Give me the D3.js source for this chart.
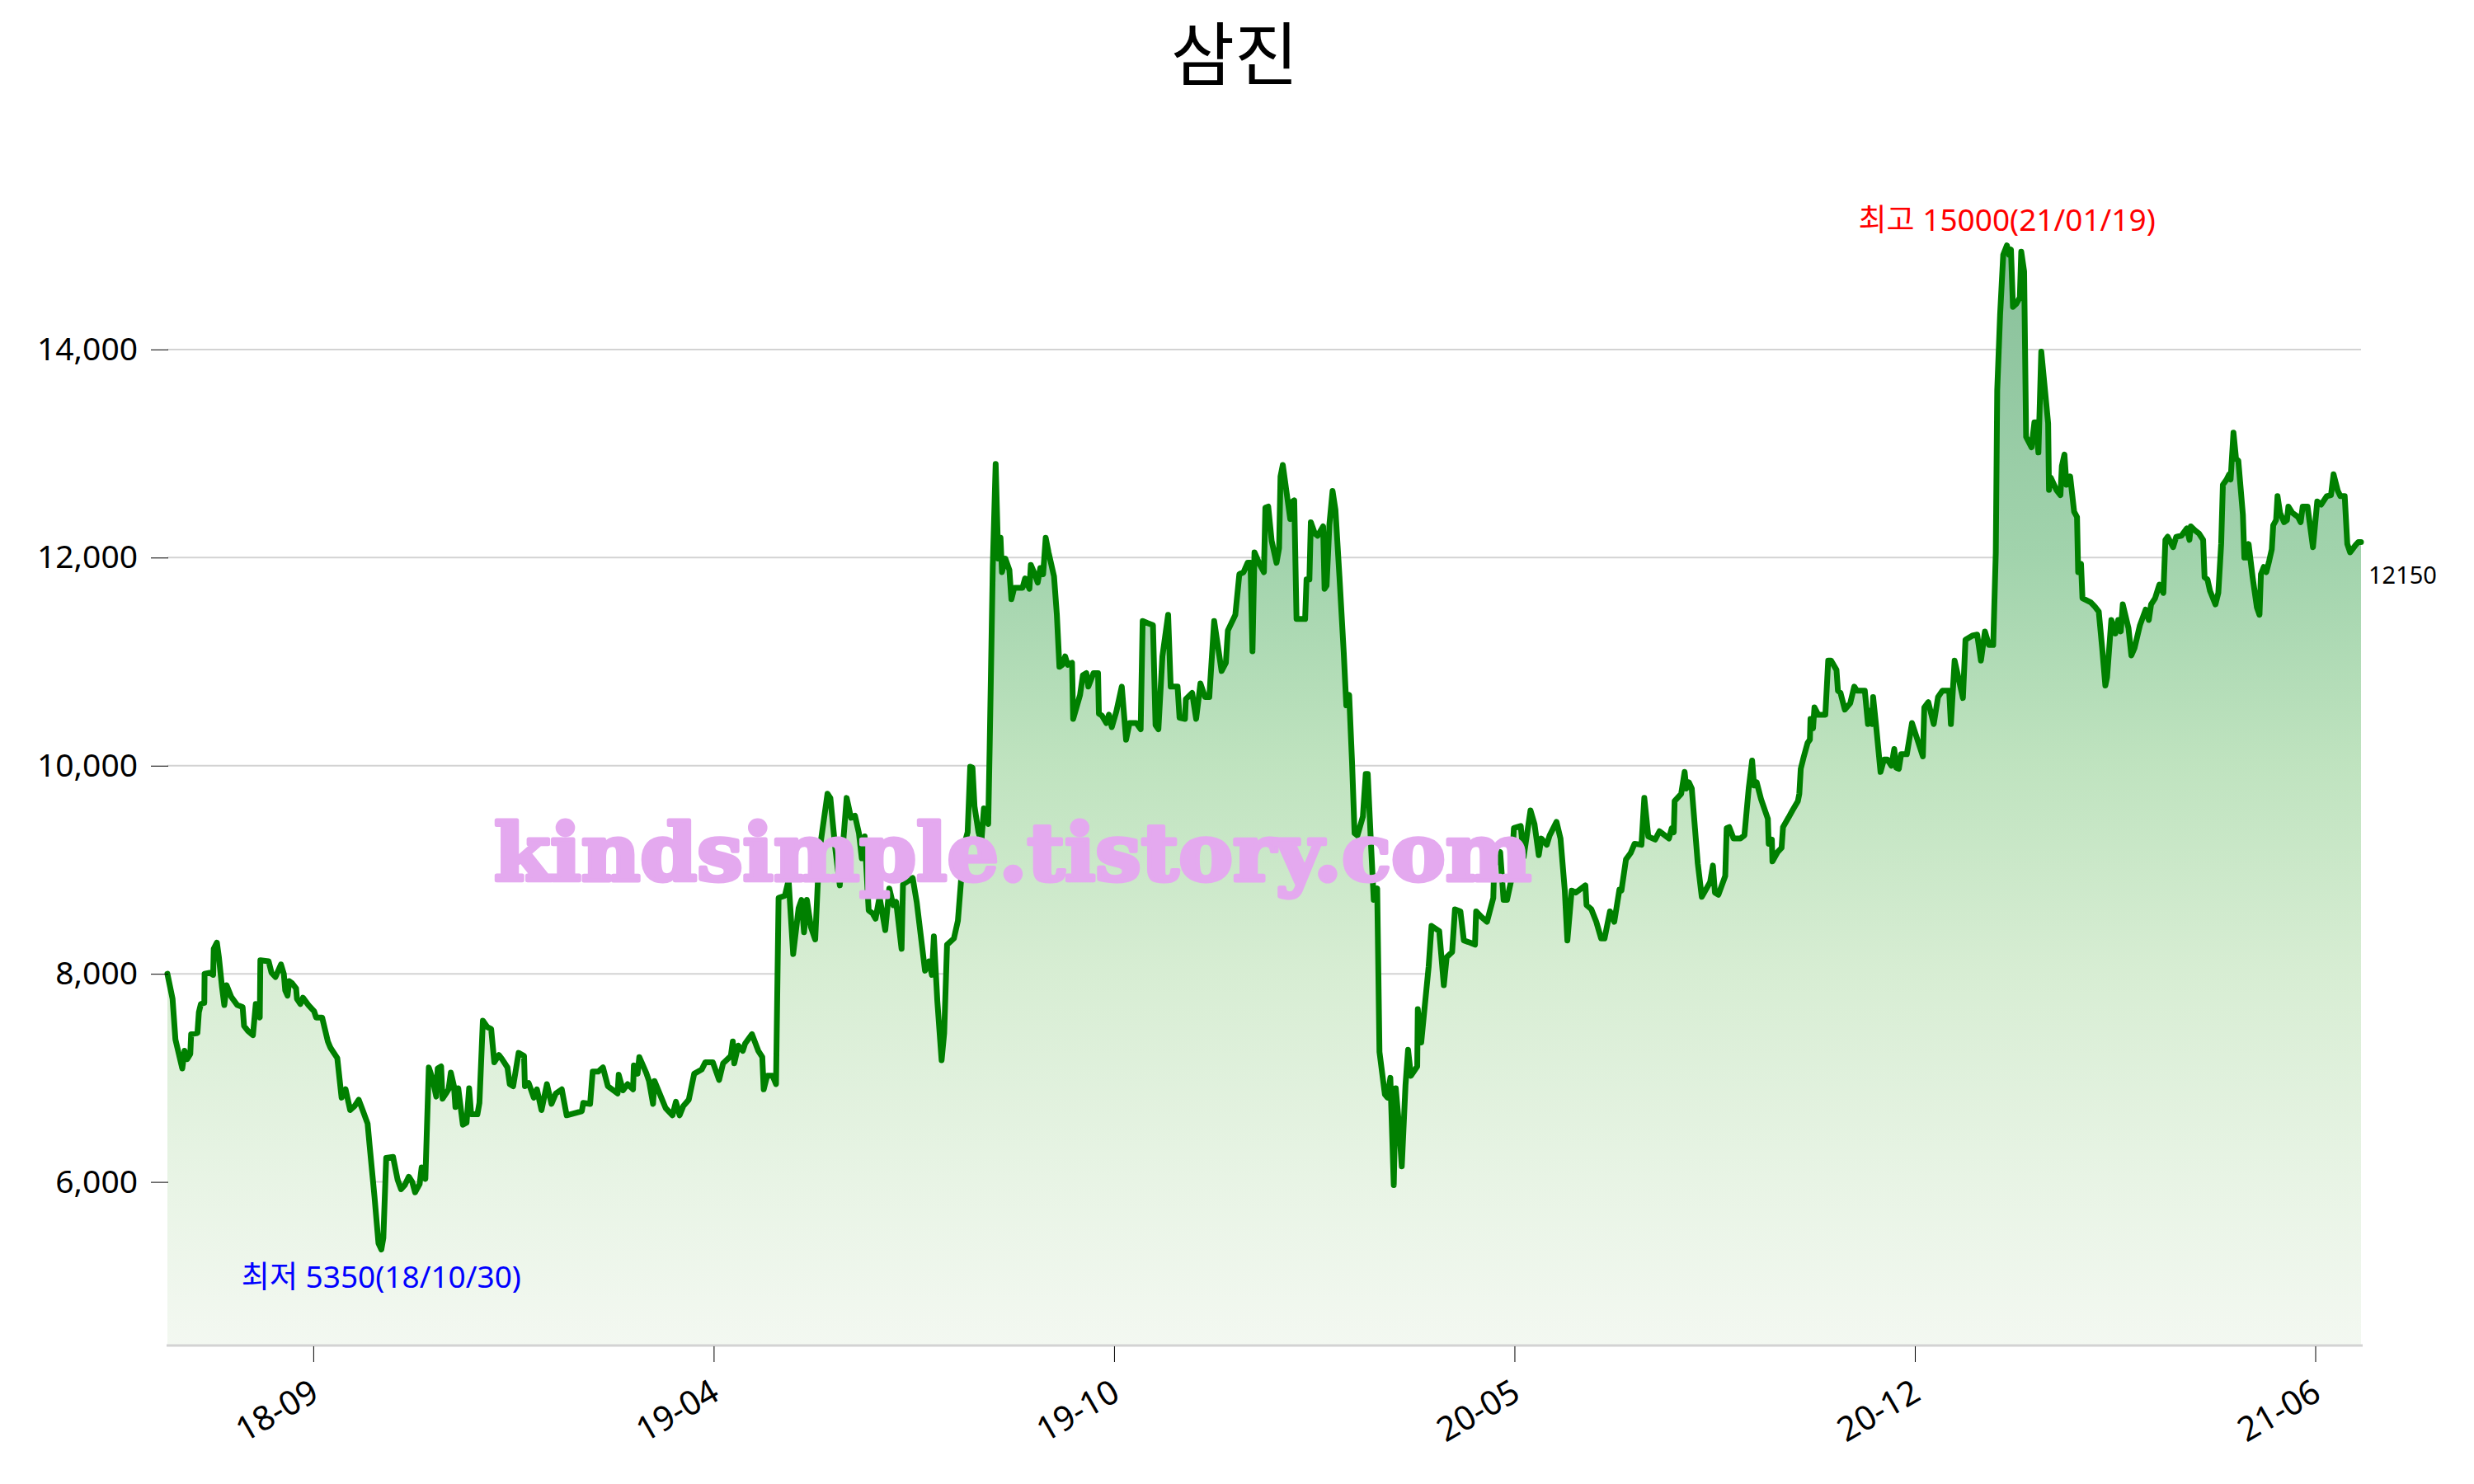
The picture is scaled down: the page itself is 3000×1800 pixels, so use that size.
<!DOCTYPE html>
<html>
<head>
<meta charset="utf-8">
<script src="https://cdn.jsdelivr.net/npm/d3@7"></script>
<style>
  html, body { margin: 0; padding: 0; background: #ffffff; }
  svg { display: block; }
</style>
</head>
<body>
<script>
// ---------------- data ----------------
const chartTitle = "삼진";
const totalDays = 768;                       // trading days shown (index 0..767)
// [trading-day index, close price]
const pricePoints = [
[0,8000],[1.8,7760],[2.8,7370],[5.2,7090],[6,7260],[6.9,7180],[8,7230],[8.3,7420],[10.5,7430],[11,7630],
[11.7,7710],[12.9,7720],[13,8000],[14.8,8010],[16,7990],[16.2,8240],[17.3,8300],[18,8160],[19.1,7870],[19.9,7700],
[20.7,7890],[22.3,7780],[24.4,7700],[26.3,7680],[26.8,7500],[28.2,7450],[29.9,7410],[30.9,7710],[32.3,7580],[32.5,8130],
[35.4,8120],[36.4,8010],[37.8,7970],[39.7,8090],[40.7,8000],[41.2,7840],[42,7790],[42.6,7930],[43.6,7910],[45,7860],
[45.3,7760],[46.5,7710],[47.4,7770],[49.3,7700],[51.3,7640],[52,7580],[54.1,7580],[56.1,7350],[57,7290],[59.4,7190],
[60.9,6810],[62.3,6890],[63.9,6690],[65.5,6730],[66.9,6790],[68.4,6680],[70,6560],[70.7,6350],[72.4,5860],[73.8,5410],
[74.8,5350],[75.5,5460],[76.5,6230],[78.9,6240],[80.5,6020],[81.7,5930],[83,5970],[84.4,6050],[85.6,6000],[86.6,5900],
[88.2,5980],[88.9,6140],[90.2,6030],[91.4,7100],[92.6,7000],[94,6820],[94.5,7090],[95.7,7110],[96.2,6800],[97.4,6850],
[98.3,6890],[99.1,7050],[100.2,6920],[100.7,6720],[101.7,6900],[103.3,6550],[104.6,6570],[105.5,6900],[106.2,6650],[108.4,6650],
[109.1,6760],[110.3,7550],[111.8,7490],[113.2,7470],[114.3,7150],[115.9,7220],[117,7180],[118.9,7100],[119.7,6940],[120.9,6920],
[122.8,7240],[124.7,7210],[125,6920],[126.3,6950],[127.1,6890],[128.1,6810],[129.2,6890],[130.8,6690],[132.7,6940],[134.3,6750],
[135.8,6850],[137.9,6890],[139.6,6640],[144.9,6680],[145.4,6760],[147.8,6750],[148.7,7060],[150.6,7060],[152.3,7100],[154,6920],
[157.4,6850],[157.8,7030],[159.3,6880],[160.9,6940],[162.8,6890],[163.1,7120],[164.4,7040],[165,7200],[167.4,7050],[168.4,6970],
[169.8,6750],[170.3,6970],[172.7,6810],[174.2,6710],[176.6,6640],[177.8,6770],[179.1,6640],[180.4,6730],[182.3,6790],[184.2,7040],
[186.8,7080],[188.1,7150],[190.7,7150],[192.9,6980],[194.3,7140],[197,7210],[197.7,7350],[198.2,7140],[199.6,7310],[201.2,7260],
[202,7330],[204.4,7420],[206.6,7260],[208,7200],[208.5,6890],[209.7,7020],[211.6,7020],[212.8,6940],[213.7,8730],[215.9,8750],
[217.2,8900],[218.8,8190],[220.7,8630],[221.7,8710],[222.6,8400],[223.6,8710],[225,8450],[226.5,8330],[227.9,9160],[230.8,9730],
[231.8,9690],[233.5,9210],[235.1,8850],[237.5,9690],[239,9500],[240.4,9520],[241.8,9350],[242.8,9110],[243.8,9320],[245.2,8610],
[246.6,8580],[247.6,8530],[249,8740],[251,8420],[252.4,8820],[253.8,8660],[254.8,8690],[256.7,8240],[257.2,8860],[260.6,8920],
[262,8690],[264.9,8030],[266.3,8120],[267.3,7990],[268,8360],[269.2,7740],[270.7,7170],[271.6,7430],[272.6,8280],[275,8340],
[276.4,8510],[277.4,8860],[278.3,9210],[279.8,9360],[280.7,9990],[281.5,9980],[282.2,9610],[283.6,9360],[284.6,9270],[285.5,9590],
[287,9440],[287.5,10170],[288.6,11920],[289.6,12900],[290.5,11990],[291.3,12190],[291.8,11860],[293,11990],[294.4,11880],[295.1,11600],
[296.1,11710],[299,11710],[299.9,11800],[301.4,11700],[301.9,11930],[303.3,11840],[304.3,11760],[305.2,11900],[306.2,11840],[307.1,12190],
[308.1,12050],[310,11820],[311,11450],[311.9,10950],[312.9,10970],[313.9,11050],[314.8,10970],[316.3,10990],[316.7,10450],[319.1,10680],
[320.1,10870],[321.3,10890],[322,10760],[323.8,10890],[325.4,10890],[325.7,10500],[326.8,10480],[328.3,10410],[329.2,10490],[330.2,10370],
[331.8,10520],[333.7,10760],[335.2,10250],[336.4,10410],[338.8,10410],[340.3,10350],[341,11390],[342.7,11370],[344.6,11350],[345.5,10390],
[346.5,10350],[347.9,11050],[349.9,11450],[350.8,10760],[353.2,10760],[353.9,10460],[355.8,10450],[356.1,10640],[358.3,10700],[359.7,10450],
[361.2,10790],[362.8,10660],[364.3,10660],[366,11390],[368.6,10910],[370.1,10990],[370.8,11300],[373.4,11450],[374.8,11840],[376.3,11860],
[377.7,11950],[378.7,11950],[379.4,11100],[380.1,12050],[382,11930],[383.4,11860],[383.9,12480],[384.9,12490],[386.1,12160],[387.8,11950],
[388.7,12090],[389.2,12780],[390,12890],[392.6,12370],[393,12530],[394,12550],[394.8,11410],[397.8,11410],[398.3,11790],[399.3,11790],
[399.8,12340],[401.2,12230],[402.2,12210],[404.1,12300],[404.6,11700],[405.3,11730],[406.3,12320],[407.4,12640],[408.4,12460],[409.8,11820],
[411.3,11090],[412.2,10580],[413.2,10680],[414.2,10040],[415.1,9350],[416.1,9330],[418,9510],[419,9920],[419.7,9920],[420.9,9210],
[421.8,8710],[423,8820],[423.8,7250],[425.7,6840],[426.6,6810],[427.6,7000],[428.8,5970],[429.5,6900],[430.7,6520],[431.6,6150],
[432.9,6930],[433.8,7270],[434.8,7020],[437,7110],[437.2,7660],[438.4,7340],[439.6,7680],[441,8070],[442,8460],[444.7,8410],
[446.3,7890],[447.3,8160],[449.2,8210],[450.2,8620],[452.1,8600],[453.3,8320],[455.4,8300],[457.2,8280],[457.6,8600],[459.3,8550],
[461.4,8500],[463.6,8730],[463.9,9030],[466,9170],[467.2,8710],[468.4,8710],[469.8,8890],[470.8,9400],[473.2,9420],[474.2,9120],
[476.6,9570],[478,9440],[479.5,9140],[480.4,9300],[482.3,9240],[483.3,9330],[485.7,9460],[487.1,9300],[488.6,8800],[489.5,8320],
[491,8800],[492.4,8780],[495.8,8850],[496.2,8660],[497.9,8620],[499.6,8500],[501.3,8340],[502.5,8340],[504.4,8600],[505.9,8500],
[507.7,8810],[508.4,8800],[510,9100],[511.6,9160],[513,9250],[515.4,9240],[516.4,9690],[517.8,9320],[520.2,9290],[521.7,9370],
[525,9300],[526,9400],[526.7,9360],[527,9660],[529.3,9730],[530.5,9940],[531.1,9780],[532,9840],[533,9780],[535.1,9060],
[536.5,8740],[539.4,8880],[540.4,9040],[541.1,8780],[542.3,8760],[544.7,8940],[545.2,9400],[546.1,9410],[547.6,9300],[550,9300],
[551.4,9330],[552.9,9780],[554.1,10050],[554.8,9810],[555.7,9840],[557.2,9680],[559.6,9490],[559.9,9250],[561,9290],[561.2,9080],
[563,9170],[564.4,9210],[564.9,9410],[566.8,9500],[568.2,9570],[570.1,9660],[570.6,9730],[571.1,9970],[572.1,10080],[573.5,10220],
[574.3,10250],[574.5,10450],[575.4,10360],[575.9,10560],[577.2,10490],[579.7,10490],[580.7,11010],[581.7,11010],[583.6,10920],[584.1,10720],
[585,10700],[586.5,10540],[588.4,10600],[589.8,10760],[590.8,10720],[593.5,10720],[594.6,10400],[595.4,10530],[596.1,10400],[596.4,10660],
[597.5,10370],[599,9940],[600.2,10060],[601.4,10060],[602.8,10000],[603.8,10160],[604.5,9980],[605.4,9970],[606.2,10110],[608.2,10110],
[610,10410],[613.8,10090],[614.3,10560],[615.7,10610],[617.6,10400],[619.1,10660],[620.6,10720],[623,10720],[623.6,10400],[624.9,11010],
[627.8,10650],[628.7,11210],[631.1,11250],[632.8,11260],[634.1,11010],[635.5,11290],[636.9,11160],[638.4,11160],[639.3,12050],[639.8,13610],
[640.8,14330],[641.9,14910],[643.2,15000],[643.9,14910],[644.6,14960],[645.3,14410],[646.5,14440],[647.7,14500],[648.2,14940],[649.2,14750],
[649.9,13160],[651.8,13060],[652.8,13300],[653.3,13300],[654.2,13010],[655.2,13980],[657.6,13290],[657.9,12650],[658.5,12770],[660.5,12650],
[661.9,12600],[662.4,12880],[663.3,12990],[664,12700],[665.3,12780],[666.7,12440],[667.7,12390],[668.1,11860],[669.1,11940],[669.6,11610],
[672.5,11570],[673.9,11530],[675.3,11480],[676.5,11130],[677.6,10770],[678.2,10850],[679.7,11400],[681.1,11270],[682.1,11400],[683,11290],
[683.7,11550],[685.7,11320],[686.7,11060],[687.8,11130],[689.7,11350],[691.7,11500],[692.8,11400],[693.6,11550],[695,11610],[696.5,11740],
[697.9,11660],[698.6,12170],[699.4,12200],[701.3,12100],[702.4,12200],[704.2,12210],[706.1,12280],[707,12170],[707.5,12300],[709,12260],
[710.4,12230],[711.8,12170],[712.3,11810],[713.3,11790],[714.2,11680],[716.1,11550],[717.1,11660],[718.1,12130],[718.7,12700],[720,12750],
[720.9,12800],[721.4,12750],[722.4,13200],[723.3,12950],[724.1,12930],[725.7,12410],[726.2,12000],[727,12000],[727.7,12130],[729.1,11810],
[730.6,11520],[731.5,11450],[732,11840],[733,11910],[733.9,11860],[734.9,11970],[735.8,12080],[736.3,12310],[737.3,12360],[737.8,12590],
[738.7,12430],[740.1,12340],[741.1,12360],[741.6,12490],[743,12430],[745,12390],[745.9,12340],[746.6,12490],[748.3,12490],[750.2,12100],
[751.7,12540],[753.1,12510],[755,12590],[756.5,12600],[757.4,12800],[758.9,12640],[759.8,12590],[761.3,12590],[762.2,12130],[763.2,12050],
[765.1,12120],[766.1,12150],[767,12150]
];
const xTickIndex  = [51, 191, 331, 471, 611, 751];
const xTickLabels = ["18-09", "19-04", "19-10", "20-05", "20-12", "21-06"];
const yTickValues = [6000, 8000, 10000, 12000, 14000];
const maxLabelPrefix = "최고", maxDate = "21/01/19";
const minLabelPrefix = "최저", minDate = "18/10/30";
const watermarkText = "kindsimple.tistory.com";

// ---------------- layout ----------------
const W = 3000, H = 1800;
const plotLeft = 203, plotRight = 2863, plotBottom = 1631, plotTop = 203;
const yMin = 4436, yMax = 15750;
const FONT = "'Noto Sans', 'Noto Sans CJK KR', sans-serif";

const svg = d3.select("body").append("svg").attr("width", W).attr("height", H);

const x = d3.scaleLinear().domain([0, totalDays - 1]).range([plotLeft, plotRight]);
const y = d3.scaleLinear().domain([yMin, yMax]).range([plotBottom, plotTop]);

// gradient
const defs = svg.append("defs");
const grad = defs.append("linearGradient").attr("id", "areaGrad")
  .attr("gradientUnits", "userSpaceOnUse")
  .attr("x1", 0).attr("x2", 0).attr("y1", y(15000)).attr("y2", y(yMin));
[[0, "#88c09a"], [0.28, "#a1d3ac"], [0.47, "#bfe3bf"], [0.66, "#d7edd3"], [0.85, "#e8f4e5"], [1, "#f3f8f1"]]
  .forEach(([o, c]) => grad.append("stop").attr("offset", o).attr("stop-color", c));

// grid lines
svg.append("g").selectAll("line").data(yTickValues).join("line")
  .attr("x1", plotLeft).attr("x2", plotRight)
  .attr("y1", d => y(d)).attr("y2", d => y(d))
  .attr("stroke", "#d3d3d3").attr("stroke-width", 2);

// area + line
const area = d3.area().x(d => x(d[0])).y0(plotBottom).y1(d => y(d[1]));
const line = d3.line().x(d => x(d[0])).y(d => y(d[1]));
svg.append("path").datum(pricePoints).attr("d", area).attr("fill", "url(#areaGrad)");
svg.append("path").datum(pricePoints).attr("d", line)
  .attr("fill", "none").attr("stroke", "#008000").attr("stroke-width", 7)
  .attr("stroke-linejoin", "round").attr("stroke-linecap", "round");

// y axis
const yAxis = svg.append("g").attr("transform", `translate(${plotLeft + 1},0)`)
  .call(d3.axisLeft(y).tickValues(yTickValues).tickSize(21).tickPadding(16).tickFormat(d3.format(",")));
yAxis.select(".domain").remove();
yAxis.selectAll(".tick line").attr("stroke", "#000").attr("stroke-width", 1);
yAxis.selectAll("text").attr("font-family", FONT).attr("font-size", 39).attr("fill", "#000");

// x axis base line
svg.append("line").attr("x1", plotLeft - 1).attr("x2", plotRight + 2)
  .attr("y1", plotBottom + 1).attr("y2", plotBottom + 1)
  .attr("stroke", "#d3d3d3").attr("stroke-width", 3);

const xAxis = svg.append("g").attr("transform", `translate(0,${plotBottom + 2})`)
  .call(d3.axisBottom(x).tickValues(xTickIndex).tickSize(19)
    .tickFormat((d, i) => xTickLabels[i]));
xAxis.select(".domain").remove();
xAxis.selectAll(".tick line").attr("stroke", "#000").attr("stroke-width", 1);
xAxis.selectAll("text")
  .attr("font-family", FONT).attr("font-size", 41).attr("fill", "#000")
  .attr("text-anchor", "end")
  .attr("x", 0).attr("y", 0).attr("dy", "0.72em")
  .attr("transform", "translate(-6,38) rotate(-30)");

// title
svg.append("text").attr("x", 1497).attr("y", 97).attr("text-anchor", "middle")
  .attr("font-family", "'Noto Sans CJK KR', sans-serif").attr("font-size", 84).attr("fill", "#000")
  .text(chartTitle);

// extreme annotations
const maxPt = pricePoints.reduce((a, b) => (b[1] > a[1] ? b : a));
const minPt = pricePoints.reduce((a, b) => (b[1] < a[1] ? b : a));
svg.append("text").attr("x", x(maxPt[0])).attr("y", y(maxPt[1]) - 18)
  .attr("text-anchor", "middle").attr("font-family", FONT).attr("font-size", 37).attr("fill", "#ff0000")
  .text(`${maxLabelPrefix} ${maxPt[1]}(${maxDate})`);
svg.append("text").attr("x", x(minPt[0])).attr("y", y(minPt[1]) + 46)
  .attr("text-anchor", "middle").attr("font-family", FONT).attr("font-size", 37).attr("fill", "#0000ff")
  .text(`${minLabelPrefix} ${minPt[1]}(${minDate})`);

// last value label
const lastPt = pricePoints[pricePoints.length - 1];
svg.append("text").attr("x", plotRight + 9).attr("y", y(lastPt[1]) + 51)
  .attr("font-family", FONT).attr("font-size", 29).attr("fill", "#000")
  .text(lastPt[1]);

// watermark
svg.append("text").attr("x", 599).attr("y", 1068)
  .attr("font-family", "'DejaVu Serif', serif").attr("font-weight", "bold").attr("font-size", 96)
  .attr("fill", "#e4a9ef").attr("stroke", "#e4a9ef").attr("stroke-width", 5)
  .attr("stroke-linejoin", "round")
  .attr("textLength", 1258).attr("lengthAdjust", "spacingAndGlyphs")
  .text(watermarkText);
</script>
</body>
</html>
